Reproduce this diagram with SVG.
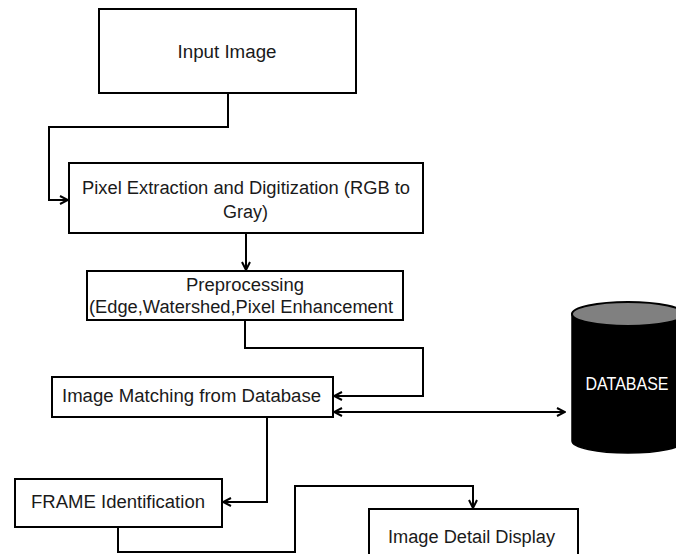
<svg xmlns="http://www.w3.org/2000/svg" width="676" height="554" viewBox="0 0 676 554">
<style>
.box{fill:#fff;stroke:#000;stroke-width:2}
.t{font-family:"Liberation Sans",Arial,sans-serif;font-size:18px;fill:#1a1a1a;text-anchor:middle}
.c{fill:none;stroke:#000;stroke-width:2}
</style>
<defs>
<marker id="ah" viewBox="0 0 10 10" refX="9" refY="5" markerWidth="10" markerHeight="10" markerUnits="userSpaceOnUse" orient="auto-start-reverse">
<path d="M1,1 L9,5 L1,9" fill="none" stroke="#000" stroke-width="2"/>
</marker>
</defs>
<rect width="676" height="554" fill="#fff"/>
<g id="connectors">
<path class="c" d="M228,93 V127 H49 V200 H68" marker-end="url(#ah)"/>
<path class="c" d="M246,233 V270" marker-end="url(#ah)"/>
<path class="c" d="M245,320 V348 H423 V396 H334" marker-end="url(#ah)"/>
<path class="c" d="M334,412 H565" marker-start="url(#ah)" marker-end="url(#ah)"/>
<path class="c" d="M267,417 V502 H223" marker-end="url(#ah)"/>
<path class="c" d="M118,527 V552 H295 V486 H473 V508" marker-end="url(#ah)"/>
</g>
<g id="input-image">
<rect class="box" x="99" y="9" width="257" height="84"/>
<text class="t" x="227" y="58" textLength="99" lengthAdjust="spacingAndGlyphs">Input Image</text>
</g>
<g id="pixel-extraction">
<rect class="box" x="69" y="163" width="354" height="70"/>
<text class="t" x="246" y="194" textLength="328" lengthAdjust="spacingAndGlyphs">Pixel Extraction and Digitization (RGB to</text>
<text class="t" x="245.5" y="218" textLength="45" lengthAdjust="spacingAndGlyphs">Gray)</text>
</g>
<g id="preprocessing">
<rect class="box" x="87" y="271" width="316" height="49"/>
<text class="t" x="245" y="291" textLength="118" lengthAdjust="spacingAndGlyphs">Preprocessing</text>
<text class="t" x="241" y="313" textLength="304" lengthAdjust="spacingAndGlyphs">(Edge,Watershed,Pixel Enhancement</text>
</g>
<g id="image-matching">
<rect class="box" x="52" y="377" width="281" height="40"/>
<text class="t" x="191.5" y="402" textLength="259" lengthAdjust="spacingAndGlyphs">Image Matching from Database</text>
</g>
<g id="frame-identification">
<rect class="box" x="15" y="479" width="207" height="48"/>
<text class="t" x="118" y="508" textLength="174" lengthAdjust="spacingAndGlyphs">FRAME Identification</text>
</g>
<g id="image-detail-display">
<rect class="box" x="369" y="509" width="209" height="60"/>
<text class="t" x="471.5" y="543" textLength="167" lengthAdjust="spacingAndGlyphs">Image Detail Display</text>
</g>
<g id="database">
<path d="M572,314 V441 A56,12 0 0 0 684,441 V314 Z" fill="#000" stroke="#000" stroke-width="1.5"/>
<ellipse cx="628" cy="314" rx="56" ry="12" fill="#808080" stroke="#000" stroke-width="2"/>
<text x="627" y="390" font-family="Liberation Sans,Arial,sans-serif" font-size="18" fill="#fff" text-anchor="middle" textLength="83" lengthAdjust="spacingAndGlyphs">DATABASE</text>
</g>
</svg>
